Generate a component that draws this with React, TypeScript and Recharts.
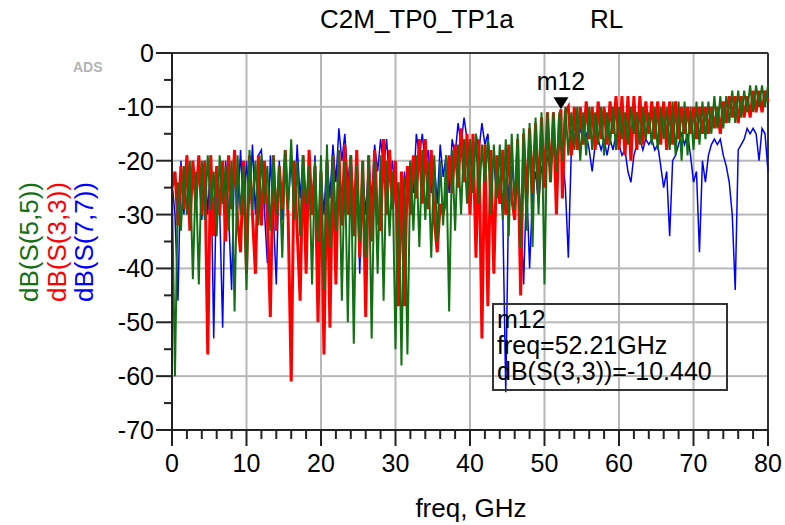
import {
  Line,
  LineChart,
  ReferenceDot,
  ReferenceLine,
  XAxis,
  YAxis,
} from 'recharts'

// sweep is sampled every 0.4 GHz from 0 to 80 GHz, one row of the arrays = 4 GHz
const FREQ_STEP = 0.4

const S55_DB = [
  -25, -60, -24, -33, -21, -30, -20, -42, -22, -43,
  -20, -31, -19, -29, -22, -34, -19, -28, -21, -33,
  -20, -48, -19, -30, -21, -44, -18, -29, -20, -32,
  -19, -28, -21, -33, -19, -30, -21, -38, -18, -29,
  -16, -31, -20, -34, -19, -28, -21, -43, -20, -35,
  -19, -44, -17, -36, -19, -33, -18, -46, -20, -50,
  -19, -54, -21, -35, -20, -38, -19, -53, -20, -41,
  -19, -46, -20, -34, -22, -55, -24, -58, -23, -56,
  -20, -33, -19, -36, -18, -31, -20, -38, -19, -35,
  -20, -32, -19, -48, -18, -33, -17, -30, -16, -28,
  -16, -26, -15, -28, -17, -24, -16, -30, -17, -27,
  -17, -31, -16, -34, -15, -29, -15, -36, -14, -33,
  -13, -36, -12, -30, -11, -43, -11, -24, -11, -22,
  -11, -20, -10, -19, -11, -18, -10, -20, -11, -19,
  -10, -18, -11, -17, -10, -19, -11, -17, -10, -18,
  -10, -16, -11, -17, -10, -15, -11, -17, -10, -16,
  -11, -17, -10, -18, -10, -16, -10, -18, -9, -19,
  -9, -20, -9, -19, -10, -18, -9, -17, -9, -16,
  -9, -15, -8, -14, -8, -14, -8, -13, -7, -13,
  -7, -12, -7, -11, -6, -11, -6, -10, -6, -10,
  -6,
]

const S33_DB = [
  -25, -22, -32, -21, -29, -19, -33, -20, -28, -19,
  -30, -20, -56, -19, -34, -21, -30, -20, -35, -19,
  -29, -18, -31, -37, -20, -41, -19, -30, -41, -19,
  -32, -20, -30, -49, -19, -33, -21, -29, -18, -31,
  -61, -20, -33, -46, -19, -41, -18, -30, -21, -50,
  -22, -56, -20, -51, -19, -43, -18, -32, -17, -30,
  -19, -34, -18, -38, -20, -49, -19, -35, -18, -31,
  -33, -16, -30, -18, -29, -20, -47, -22, -47, -21,
  -30, -19, -27, -16, -28, -16, -29, -18, -31, -37,
  -28, -30, -27, -19, -26, -17, -25, -14, -24, -15,
  -30, -15, -38, -16, -53, -17, -47, -18, -41, -19,
  -28, -18, -30, -17, -27, -31, -16, -45, -15, -28,
  -14, -26, -13, -27, -12, -25, -11, -24, -11, -30,
  -12, -27, -11, -10, -19, -10, -18, -10, -17, -9,
  -16, -10, -18, -9, -16, -10, -17, -9, -15, -8,
  -18, -8, -19, -8, -20, -8, -18, -8, -17, -9,
  -15, -9, -16, -9, -17, -9, -18, -9, -17, -9,
  -16, -10, -15, -10, -15, -10, -16, -10, -15, -10,
  -15, -10, -14, -10, -15, -9, -13, -8, -12, -8,
  -13, -8, -12, -8, -12, -7, -11, -7, -11, -7,
  -9,
]

const S77_DB = [
  -24, -30, -46, -20, -30, -19, -28, -21, -29, -20,
  -31, -20, -30, -19, -53, -21, -29, -51, -20, -30,
  -44, -19, -29, -18, -30, -20, -28, -17, -30, -19,
  -18, -29, -39, -19, -30, -43, -20, -31, -19, -28,
  -20, -30, -17, -27, -19, -31, -20, -29, -19, -41,
  -22, -30, -19, -27, -17, -24, -14, -20, -15, -24,
  -19, -28, -21, -41, -22, -30, -20, -27, -17, -22,
  -16, -21, -16, -24, -20, -28, -24, -33, -22, -27,
  -20, -26, -15, -19, -15, -21, -18, -26, -20, -28,
  -17, -23, -19, -26, -16, -19, -13, -17, -12, -16,
  -19, -23, -15, -18, -13, -17, -15, -22, -20, -27,
  -24, -30, -63, -25, -21, -26, -22, -29, -43, -24,
  -40, -26, -22, -28, -21, -24, -19, -22, -17, -20,
  -16, -19, -25, -38, -18, -15, -17, -14, -16, -15,
  -18, -22, -17, -16, -18, -16, -19, -16, -18, -15,
  -17, -19, -18, -22, -24, -19, -17, -16, -18, -16,
  -17, -16, -18, -17, -21, -25, -22, -34, -20, -19,
  -17, -15, -17, -15, -19, -24, -22, -37, -20, -24,
  -19, -17, -16, -17, -16, -19, -21, -24, -30, -44,
  -18, -17, -16, -14, -15, -14, -15, -20, -14, -15,
  -22,
]

// marker m12 on dB(S(3,3))
const MARKER_FREQ = 52.21
const MARKER_DB = -10.44

const X_TICKS = [
  0, 2, 4, 6, 8, 10, 12, 14, 16, 18, 20, 22, 24, 26, 28, 30, 32, 34, 36, 38, 40,
  42, 44, 46, 48, 50, 52, 54, 56, 58, 60, 62, 64, 66, 68, 70, 72, 74, 76, 78, 80,
]
const Y_TICKS = [0, -5, -10, -15, -20, -25, -30, -35, -40, -45, -50, -55, -60, -65, -70]
const GRID_X = [10, 20, 30, 40, 50, 60, 70]
const GRID_Y = [-10, -20, -30, -40, -50, -60]
const X_DOMAIN = [0, 80]
const Y_DOMAIN = [-70, 0]

// plot box, the same numbers go into the chart margin and axis sizes
const W = 785
const H = 525
const PLOT_LEFT = 172
const PLOT_TOP = 53
const PLOT_RIGHT = 17
const PLOT_BOTTOM = 95
const PLOT_W = W - PLOT_LEFT - PLOT_RIGHT
const PLOT_H = H - PLOT_TOP - PLOT_BOTTOM

const FONT = '"Liberation Sans", Arial, sans-serif'
const GREEN = '#127012'
const RED = '#ff0000'
const BLUE = '#0000ff'
const GRID = '#b8b8b8'

const rows: Array<{ f: number; s55?: number; s33?: number; s77?: number }> = S55_DB.map(
  (v, i) => ({
    f: Math.round(i * FREQ_STEP * 100) / 100,
    s55: v,
    s33: S33_DB[i],
    s77: S77_DB[i],
  }),
)
rows.push({ f: MARKER_FREQ, s33: MARKER_DB })
rows.sort((a, b) => a.f - b.f)

const xPix = (v: number) =>
  PLOT_LEFT + ((v - X_DOMAIN[0]) / (X_DOMAIN[1] - X_DOMAIN[0])) * PLOT_W
const yPix = (v: number) =>
  PLOT_TOP + ((Y_DOMAIN[1] - v) / (Y_DOMAIN[1] - Y_DOMAIN[0])) * PLOT_H

function XTick(props: any) {
  const { x, y, payload } = props
  const major = payload.value % 10 === 0
  return (
    <g>
      <line x1={x} y1={y} x2={x} y2={y + (major ? 16 : 9)} stroke="#222" strokeWidth={2} />
      {major && (
        <text x={x} y={y + 42} textAnchor="middle" fontSize={25} fontFamily={FONT} fill="#000">
          {payload.value}
        </text>
      )}
    </g>
  )
}

function YTick(props: any) {
  const { x, y, payload } = props
  const major = payload.value % 10 === 0
  return (
    <g>
      <line x1={x - (major ? 16 : 8)} y1={y} x2={x} y2={y} stroke="#222" strokeWidth={2} />
      {major && (
        <text x={x - 18} y={y + 9} textAnchor="end" fontSize={25} fontFamily={FONT} fill="#000">
          {payload.value}
        </text>
      )}
    </g>
  )
}

function MarkerShape(props: any) {
  const { cx, cy } = props
  return (
    <g>
      <path d={`M${cx - 7.5},${cy - 12} L${cx + 7.5},${cy - 12} L${cx},${cy} Z`} fill="#000" />
      <text x={cx} y={cy - 19} textAnchor="middle" fontSize={25} fontFamily={FONT} fill="#000">
        m12
      </text>
    </g>
  )
}

export default function App() {
  return (
    <div style={{ position: 'absolute', left: 0, top: 0, width: W, height: H, background: '#fff' }}>
      {/* grid underneath the chart */}
      <svg width={W} height={H} style={{ position: 'absolute', left: 0, top: 0 }}>
        {GRID_X.map((v) => (
          <rect
            key={`gx${v}`}
            x={xPix(v) - 1}
            y={PLOT_TOP}
            width={2}
            height={PLOT_H}
            fill={GRID}
          />
        ))}
        {GRID_Y.map((v) => (
          <rect
            key={`gy${v}`}
            x={PLOT_LEFT}
            y={yPix(v) - 1}
            width={PLOT_W}
            height={2}
            fill={GRID}
          />
        ))}
      </svg>
      <div style={{ position: 'absolute', left: 0, top: 0 }}>
        <LineChart
          width={W}
          height={H}
          data={rows}
          margin={{ top: PLOT_TOP, right: PLOT_RIGHT, left: 0, bottom: 0 }}
        >
          <ReferenceLine y={0} stroke="#333" strokeWidth={2} />
          <ReferenceLine x={80} stroke="#333" strokeWidth={2} />
          <XAxis
            dataKey="f"
            type="number"
            domain={X_DOMAIN}
            ticks={X_TICKS}
            interval={0}
            height={PLOT_BOTTOM}
            tickLine={false}
            tickSize={0}
            tickMargin={0}
            tick={(p: any) => <XTick {...p} />}
            axisLine={{ stroke: '#222', strokeWidth: 2 }}
          />
          <YAxis
            type="number"
            domain={Y_DOMAIN}
            ticks={Y_TICKS}
            interval={0}
            width={PLOT_LEFT}
            tickLine={false}
            tickSize={0}
            tickMargin={0}
            tick={(p: any) => <YTick {...p} />}
            axisLine={{ stroke: '#222', strokeWidth: 2 }}
          />
          <Line
            dataKey="s77"
            type="linear"
            stroke={BLUE}
            strokeWidth={1.5}
            dot={false}
            connectNulls
            isAnimationActive={false}
          />
          <Line
            dataKey="s33"
            type="linear"
            stroke={RED}
            strokeWidth={3}
            dot={false}
            connectNulls
            isAnimationActive={false}
          />
          <Line
            dataKey="s55"
            type="linear"
            stroke={GREEN}
            strokeWidth={2}
            dot={false}
            connectNulls
            isAnimationActive={false}
          />
          <ReferenceDot x={MARKER_FREQ} y={MARKER_DB} shape={(p: any) => <MarkerShape {...p} />} />
        </LineChart>
      </div>
      <svg
        width={W}
        height={H}
        style={{ position: 'absolute', left: 0, top: 0, pointerEvents: 'none' }}
        fontFamily={FONT}
      >
        <text x={320} y={28} fontSize={26} fill="#000">C2M_TP0_TP1a</text>
        <text x={590} y={28} fontSize={26} fill="#000">RL</text>
        <text x={73} y={72} fontSize={14} fontWeight="bold" fill="#b4b4b4">ADS</text>
        <text x={38} y={242} fontSize={26} fill={GREEN} textAnchor="middle" transform="rotate(-90 38 242)">
          dB(S(5,5))
        </text>
        <text x={66} y={242} fontSize={26} fill={RED} textAnchor="middle" transform="rotate(-90 66 242)">
          dB(S(3,3))
        </text>
        <text x={93} y={242} fontSize={26} fill={BLUE} textAnchor="middle" transform="rotate(-90 93 242)">
          dB(S(7,7))
        </text>
        <text x={471} y={517} fontSize={26} fill="#000" textAnchor="middle">freq, GHz</text>
        <rect x={493} y={304} width={234} height={86} fill="none" stroke="#333" strokeWidth={2} />
        <text x={497} y={328} fontSize={25} fill="#000">m12</text>
        <text x={497} y={354} fontSize={25} fill="#000">freq=52.21GHz</text>
        <text x={497} y={380} fontSize={25} fill="#000">dB(S(3,3))=-10.440</text>
      </svg>
    </div>
  )
}
